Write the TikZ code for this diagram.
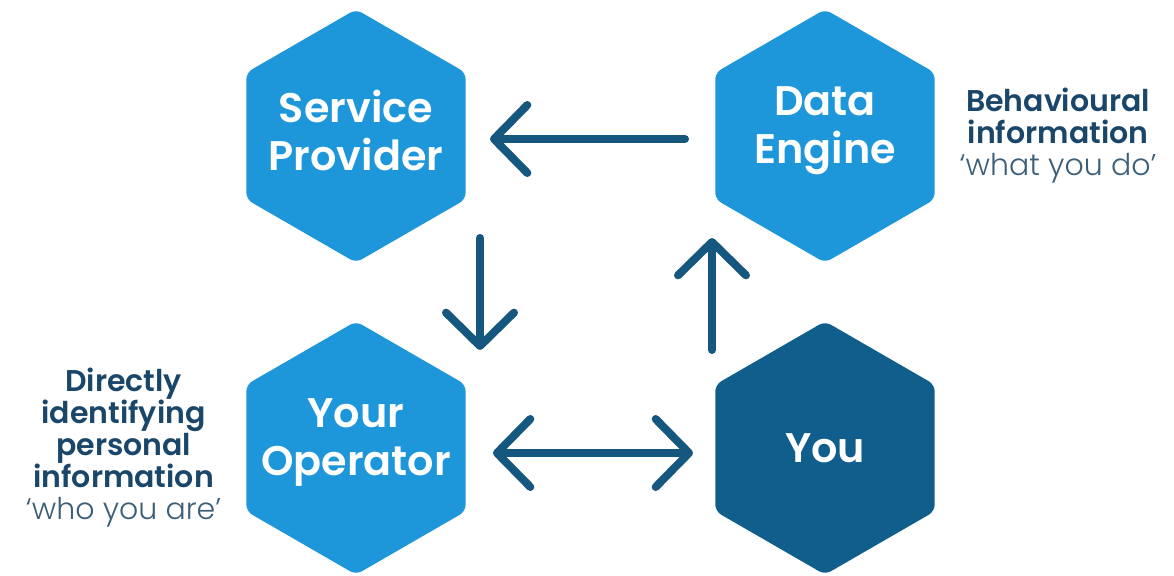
\documentclass[tikz,border=0pt]{standalone}
\usepackage{fontspec}
\setmainfont{Poppins}[BoldFont={Poppins SemiBold}]
\newfontfamily\quotefont{Poppins Light}[Ligatures=TeX]
\usetikzlibrary{shapes.geometric,arrows.meta,positioning}
\begin{document}
\begin{tikzpicture}[x=0.75pt,y=0.75pt]
  % Colors
  \definecolor{hexcolor}{RGB}{30,150,218}
  \definecolor{youcolor}{RGB}{16,94,139}
  \definecolor{arrowcolor}{RGB}{22,87,128}
  \definecolor{infocolor}{RGB}{25,70,105}
  \definecolor{quotecolor}{RGB}{60,95,120}

  % Styles
  \tikzstyle{hexagon}=[regular polygon,regular polygon sides=6,shape border rotate=30,
    minimum size=190pt,inner sep=0pt,fill=hexcolor,rounded corners=5pt]
  \tikzstyle{hex text}=[text=white,align=center,font=\fontsize{31}{36}\selectfont\bfseries]
  \tikzstyle{flow line}=[arrowcolor,line width=6pt,line cap=round]
  \tikzstyle{information text}=[align=center,text=infocolor,font=\fontsize{22.5}{24}\selectfont\bfseries]

  \useasboundingbox (0,0) rectangle (1174,575);

  % The hexagons
  \node[hexagon] (provider) at (356,439) {};
  \node[hexagon] (engine) at (825,439) {};
  \node[hexagon] (operator) at (356,127) {};
  \node[hexagon,fill=youcolor] (you) at (825,127) {};

  \node[hex text] (provider text) at ([yshift=4]provider.center) {Service\\Provider};
  \node[hex text] (engine text) at ([yshift=4]engine.center) {Data\\Engine};
  \node[hex text] (operator text) at ([yshift=4]operator.center) {Your\\Operator};
  \node[hex text] (you text) at (you) {You};

  % Side information
  \node[information text,right=15pt of engine] (behaviour)
    {Behavioural\\information\\{\quotefont\mdseries\color{quotecolor}‘what you do’}};
  \node[information text,left=15pt of operator] (identity)
    {Directly\\identifying\\personal\\information\\{\quotefont\mdseries\color{quotecolor}‘who you are’}};

  % The arrows
  \draw[flow line,-{Straight Barb[length=25pt,width=51pt,round]}]
    ([shift={(-30,-3)}]engine.west) -- ([shift={(24,-3)}]provider.east);
  \draw[flow line,-{Straight Barb[length=25pt,width=51pt,round]}]
    ([shift={(124,-102)}]provider.center) -- ([shift={(124,98)}]operator.center);
  \draw[flow line,-{Straight Barb[length=25pt,width=51pt,round]}]
    ([shift={(-113,98)}]you.center) -- ([shift={(-113,-102)}]engine.center);
  \draw[flow line,{Straight Barb[length=25pt,width=51pt,round]}-{Straight Barb[length=25pt,width=51pt,round]}]
    ([shift={(27,-5)}]operator.east) -- ([shift={(-22,-5)}]you.west);
\end{tikzpicture}
\end{document}
